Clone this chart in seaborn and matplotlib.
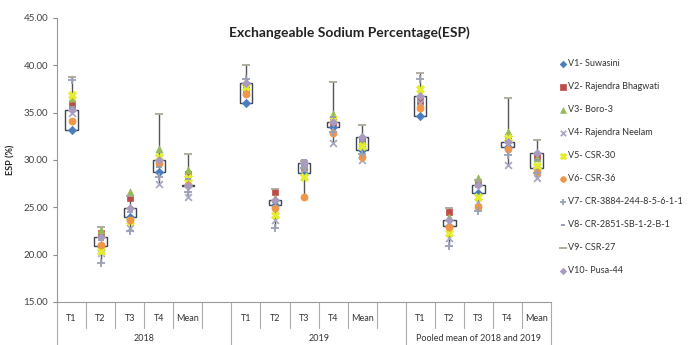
import numpy as np
import pandas as pd
import matplotlib
matplotlib.use("Agg")
import matplotlib.pyplot as plt
import seaborn as sns

sns.set_style("white")
plt.rcParams["font.family"] = ["Lato", "DejaVu Sans"]

# categories
treatments = ["T1", "T2", "T3", "T4", "Mean"]
groups = ["2018", "2019", "Pooled mean of 2018 and 2019"]
varieties = ["V1- Suwasini", "V2- Rajendra Bhagwati", "V3- Boro-3", "V4- Rajendra Neelam",
             "V5- CSR-30", "V6- CSR-36", "V7- CR-3884-244-8-5-6-1-1", "V8- CR-2851-SB-1-2-B-1",
             "V9- CSR-27", "V10- Pusa-44"]

# ESP (%) per variety: 2018 T1..Mean, 2019 T1..Mean, pooled T1..Mean
esp_v1 = [33.2, 20.9, 24.0, 28.7, 27.4, 36.0, 25.25, 28.65, 33.5, 31.0, 34.6, 23.0, 26.5, 31.4, 29.1]
esp_v2 = [35.8, 22.3, 25.95, 29.8, 28.5, 37.5, 26.6, 29.3, 34.0, 32.1, 36.2, 24.5, 27.6, 32.4, 30.35]
esp_v3 = [36.5, 22.6, 26.6, 31.1, 28.9, 38.3, 26.0, 29.5, 34.8, 31.8, 37.0, 24.0, 28.1, 33.0, 30.2]
esp_v4 = [35.0, 20.2, 22.8, 27.5, 26.1, 37.2, 23.6, 29.0, 31.8, 30.0, 36.0, 21.8, 25.5, 29.5, 28.1]
esp_v5 = [36.9, 20.4, 23.5, 30.3, 28.05, 37.7, 24.2, 28.2, 34.3, 31.5, 37.45, 22.3, 26.1, 32.3, 29.4]
esp_v6 = [34.1, 21.0, 23.7, 29.65, 27.4, 37.0, 24.9, 26.1, 32.8, 30.3, 35.45, 22.9, 25.05, 31.2, 28.75]
esp_v7 = [38.4, 19.1, 22.5, 28.2, 26.6, 38.6, 22.8, 29.1, 33.0, 30.6, 38.6, 20.9, 24.6, 30.5, 28.6]
esp_v8 = [35.6, 21.5, 24.5, 29.2, 28.0, 37.9, 25.5, 30.0, 34.5, 32.0, 36.5, 23.6, 27.1, 32.0, 30.0]
esp_v9 = [38.8, 22.9, 26.2, 34.9, 30.6, 40.0, 26.9, 29.9, 38.2, 33.7, 39.15, 24.9, 27.9, 36.5, 32.1]
esp_v10 = [35.3, 21.9, 24.9, 30.0, 27.25, 38.15, 25.8, 29.7, 34.05, 32.45, 36.7, 23.65, 27.35, 31.9, 30.7]

all_esp = [esp_v1, esp_v2, esp_v3, esp_v4, esp_v5, esp_v6, esp_v7, esp_v8, esp_v9, esp_v10]

markers = ["D", "s", "^", "x", "X", "o", "+", "_", "_", "D"]
colors = ["#4A7EBB", "#BE4B48", "#98B954", "#A9A9C4", "#E4EE2E", "#F09648",
          "#9AA0B8", "#8E9AB4", "#ABA797", "#A99BC0"]
sizes = [18, 22, 26, 24, 34, 26, 26, 18, 40, 17]

# slot positions: 5 categories per group + one blank slot between groups
slots = [0, 1, 2, 3, 4, 6, 7, 8, 9, 10, 12, 13, 14, 15, 16]

rows = []
for name, vals in zip(varieties, all_esp):
    for pos, v in zip(slots, vals):
        rows.append({"variety": name, "pos": pos, "ESP": v})
df = pd.DataFrame(rows)

fig = plt.figure(figsize=(6.95, 3.45), dpi=100)
ax = fig.add_axes([0.082, 0.125, 0.711, 0.823])

# high-low lines
arr = np.array(all_esp)
ax.vlines(slots, arr.min(axis=0), arr.max(axis=0), color="#555555", lw=1.0, zorder=1)

# up/down bars between first and last series
first, last = np.array(esp_v1), np.array(esp_v10)
bottoms = np.minimum(first, last)
heights = np.maximum(np.abs(last - first), 0.12)
fills = ["white" if l >= f else "#222222" for f, l in zip(first, last)]
ax.bar(slots, heights, bottom=bottoms, width=0.42, color=fills,
       edgecolor="#3F4450", linewidth=1.0, zorder=2)

for i, name in enumerate(varieties):
    sub = df[df["variety"] == name]
    m = markers[i]
    if m in ("x", "+", "_"):
        sns.scatterplot(data=sub, x="pos", y="ESP", marker=m, color=colors[i], s=sizes[i],
                        linewidth=1.3, ax=ax, label=name, zorder=3)
    else:
        sns.scatterplot(data=sub, x="pos", y="ESP", marker=m, color=colors[i], s=sizes[i],
                        edgecolor=colors[i], linewidth=0.5, ax=ax, label=name, zorder=3)

ax.set_xlim(-0.5, 16.5)
ax.set_ylim(15, 45)
ax.set_yticks(np.arange(15, 46, 5))
ax.set_yticklabels([f"{t:.2f}" for t in np.arange(15, 46, 5)], fontsize=7, color="#404040")
ax.tick_params(axis="y", length=3, color="#888888", direction="out", left=True)
ax.set_xticks([])
ax.set_xlabel("")
ax.set_ylabel("ESP (%)", fontsize=6.5, fontweight="bold", labelpad=6)
for s in ["top", "right"]:
    ax.spines[s].set_visible(False)
ax.spines["left"].set_color("#999999")
ax.spines["bottom"].set_color("#999999")

# multi-level category axis
trans = ax.get_xaxis_transform()
short_lines = [0.5, 1.5, 2.5, 3.5, 4.5, 6.5, 7.5, 8.5, 9.5, 10.5, 12.5, 13.5, 14.5, 15.5]
for xl in short_lines:
    ax.plot([xl, xl], [0, -0.092], transform=trans, color="#AAAAAA", lw=0.8, clip_on=False)
for xl in [-0.5, 5.5, 11.5, 16.5]:
    ax.plot([xl, xl], [0, -0.16], transform=trans, color="#AAAAAA", lw=0.8, clip_on=False)
for pos, lab in zip(slots, treatments * 3):
    ax.text(pos, -0.058, lab, transform=trans, ha="center", va="center", fontsize=6.5, color="#333333")
for center, g in zip([2.5, 8.5, 14], groups):
    ax.text(center, -0.13, g, transform=trans, ha="center", va="center", fontsize=6.5, color="#333333")

fig.text(0.503, 0.905, "Exchangeable Sodium Percentage(ESP)", ha="center", va="center",
         fontsize=10, fontweight="bold", color="#222222")

ax.legend(loc="upper left", bbox_to_anchor=(1.0, 0.88), frameon=False, fontsize=6.5,
          labelspacing=1.55, handletextpad=0.1, handlelength=1.0, borderaxespad=0.4,
          markerscale=0.8, labelcolor="#333333")

fig.savefig("out.png", dpi=100)
